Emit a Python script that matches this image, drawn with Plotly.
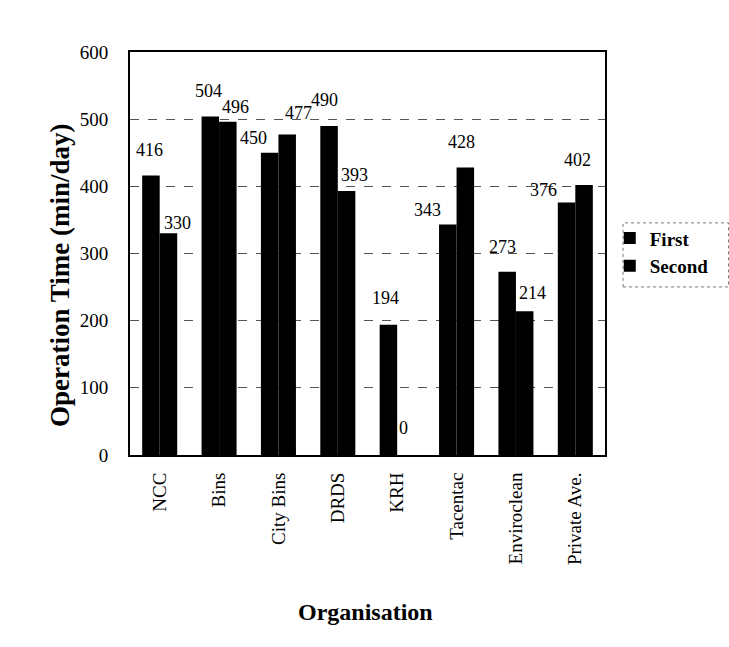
import plotly.graph_objects as go

# Operation time per organisation, two survey rounds
organisations = ["NCC", "Bins", "City Bins", "DRDS", "KRH", "Tacentac",
                 "Enviroclean", "Private Ave."]
first_round = [416, 504, 450, 490, 194, 343, 273, 376]
second_round = [330, 496, 477, 393, 0, 428, 214, 402]
y_ticks = [0, 100, 200, 300, 400, 500, 600]

# label placement offsets (px) relative to category centre / bar top
first_label_dx = [-10, -11, -25, -13, -12, -29, -13, -32]
first_label_dy = [26, 25, 15, 26, 27, 15, 25, 12]
second_label_dx = [18, 16, 20, 17, 6, 5, 17, 2]
second_label_dy = [10, 15, 22, 16, 27, 26, 18, 25]

FONT = "Liberation Serif, Times New Roman, serif"

fig = go.Figure()
fig.add_trace(go.Bar(name="First", x=organisations, y=first_round,
                     marker=dict(color="black", line=dict(width=0))))
fig.add_trace(go.Bar(name="Second", x=organisations, y=second_round,
                     marker=dict(color="black", line=dict(width=0))))

annotations = []
for series, dxs, dys in ((first_round, first_label_dx, first_label_dy),
                         (second_round, second_label_dx, second_label_dy)):
    for org, val, dx, dy in zip(organisations, series, dxs, dys):
        annotations.append(dict(
            x=org, y=val, xref="x", yref="y", text=str(val),
            showarrow=False, xshift=dx, yshift=dy,
            xanchor="center", yanchor="middle",
            font=dict(family=FONT, size=18, color="black")))

annotations.append(dict(
    x=-0.147, y=0.447, xref="paper", yref="paper",
    text="<b>Operation Time (min/day)</b>", textangle=-90,
    showarrow=False, xanchor="center", yanchor="middle",
    font=dict(family=FONT, size=27, color="black")))
annotations.append(dict(
    x=0.495, y=-0.39, xref="paper", yref="paper",
    text="<b>Organisation</b>", showarrow=False,
    xanchor="center", yanchor="middle",
    font=dict(family=FONT, size=24, color="black")))

fig.update_layout(
    width=729, height=647,
    margin=dict(l=130, r=124, t=52, b=192),
    paper_bgcolor="white", plot_bgcolor="white",
    barmode="group", bargap=0.41, bargroupgap=0,
    font=dict(family=FONT, color="black"),
    showlegend=True,
    legend=dict(x=1.01, y=0.585, xanchor="left", yanchor="top",
                bgcolor="rgba(0,0,0,0)", borderwidth=0,
                font=dict(family=FONT, size=19, color="black", weight="bold"),
                itemwidth=30, tracegroupgap=0),
    annotations=annotations,
    shapes=[dict(type="rect", xref="paper", yref="paper",
                 x0=1.038, x1=1.26, y0=0.417, y1=0.576,
                 line=dict(color="#777", width=1, dash="dot"))],
)

fig.update_xaxes(
    showline=True, linecolor="black", linewidth=2, mirror=True,
    ticks="", tickangle=-90, ticklabelstandoff=8,
    tickfont=dict(family=FONT, size=19, color="black"),
    showgrid=False,
)
fig.update_yaxes(
    range=[0, 600], tickvals=y_ticks,
    showline=True, linecolor="black", linewidth=2, mirror=True,
    ticks="", ticklabelstandoff=16,
    tickfont=dict(family=FONT, size=19, color="black"),
    showgrid=True, gridcolor="#555", gridwidth=1, griddash="dash",
    zeroline=False,
)

fig.write_html("out.html")
